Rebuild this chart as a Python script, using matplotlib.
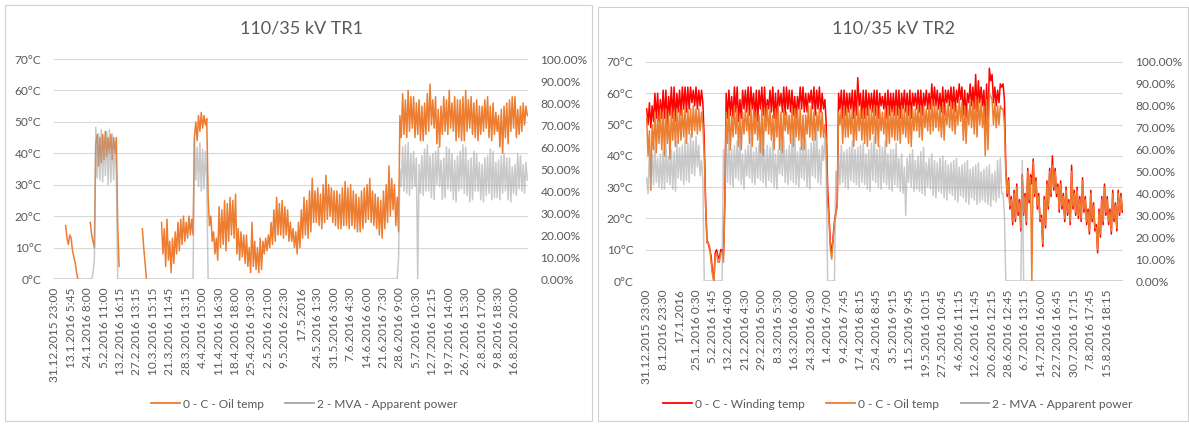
import numpy as np
import matplotlib
matplotlib.use("Agg")
import matplotlib.pyplot as plt
from matplotlib.patches import Rectangle
from matplotlib.lines import Line2D

plt.rcParams['font.family'] = ['Lato', 'DejaVu Sans']

nan = np.nan

# ---------------- TR1 data ----------------
tr1_labels = ["31.12.2015 23:00", "13.1.2016 5:45", "24.1.2016 8:00", "5.2.2016 11:00",
              "13.2.2016 16:15", "27.2.2016 13:15", "10.3.2016 15:15", "21.3.2016 11:45",
              "28.3.2016 13:15", "4.4.2016 15:00", "11.4.2016 16:30", "18.4.2016 18:00",
              "25.4.2016 19:30", "2.5.2016 21:00", "9.5.2016 22:30", "17.5.2016",
              "24.5.2016 1:30", "31.5.2016 3:00", "7.6.2016 4:30", "14.6.2016 6:00",
              "21.6.2016 7:30", "28.6.2016 9:00", "5.7.2016 10:30", "12.7.2016 12:15",
              "19.7.2016 14:00", "26.7.2016 15:30", "2.8.2016 17:00", "9.8.2016 18:30",
              "16.8.2016 20:00"]

tr1_oil = ([nan] * 8 +
           [17, 13, 11, 14, 13, 9, 7, 5, 2, 0] +
           [nan] * 8 +
           [18, 14, 12, 10] +
           [43, 46, 36, 45, 37, 46, 38, 47, 39, 45, 40, 46, 38, 45, 40, 45] +
           [17, 4] +
           [nan] * 16 +
           [16, 10, 5, 0] +
           [nan] * 10 +
           [18, 8, 16, 4, 19, 6, 12, 2, 13, 5, 15, 8, 18, 9, 19, 11, 20, 12, 18, 13, 20, 14, 19, 14] +
           [45, 50, 44, 52, 47, 53, 48, 52, 49, 51] +
           [26, 17, 20, 12, 15, 8, 13, 6,
            23, 10, 22, 11, 25, 9, 24, 12, 26, 14, 25, 13, 27, 8,
            16, 6, 15, 7, 14, 5, 14, 4, 10, 2, 18, 4, 12, 3, 10, 2, 13, 3,
            12, 8, 13, 9, 14, 10, 18, 11, 22, 12, 26, 14, 24, 14, 25, 13, 23, 14, 22, 12,
            18, 12, 16, 10, 15, 8, 18, 10, 22, 13, 26, 14, 25, 13, 28, 15, 32, 18, 28, 18,
            29, 17, 27, 16, 30, 18, 33, 19, 30, 20, 29, 18, 28, 17, 28, 16, 27, 16, 29, 17,
            31, 17, 29, 16, 30, 17, 28, 16, 27, 15, 26, 15, 28, 16, 29, 18, 30, 19, 32, 18,
            28, 17, 27, 16, 26, 14, 25, 13, 28, 16, 30, 18, 36, 20, 32, 22, 30, 17, 26, 15] +
           [52, 45, 59, 46, 57, 45, 60, 47, 58, 48, 58, 45, 56, 46, 57, 44, 55, 44, 56, 46,
            59, 47, 62, 49, 57, 48, 58, 43, 54, 42, 55, 46, 58, 47, 57, 46, 60, 48, 56, 47,
            58, 44, 57, 45, 57, 44, 58, 44, 60, 47, 57, 48, 58, 46, 56, 45, 57, 44, 55, 46,
            55, 47, 57, 48, 58, 45, 55, 44, 56, 46, 53, 47, 52, 42, 54, 40, 55, 45, 56, 43,
            57, 47, 58, 48, 58, 45, 54, 46, 55, 47, 56, 49, 55, 52])

tr1_mva = ([0] * 28 + [3, 9] +
           [69, 46, 66, 45, 68, 44, 65, 47, 67, 43, 68, 44, 66, 45, 62, 48] +
           [0] * 56 +
           [64, 45, 60, 42, 62, 40, 59, 41, 58, 45] +
           [0] * 138 + [0, 9] +
           [50, 42, 60, 40, 61, 39, 62, 38, 57, 41, 58, 42, 55, 0, 52, 39, 56, 38, 59, 40,
            61, 40, 56, 37, 57, 36, 58, 43, 60, 42, 54, 36, 55, 37, 60, 41, 59, 40, 57, 36,
            54, 35, 56, 40, 58, 41, 61, 39, 60, 38, 54, 35, 55, 36, 58, 40, 57, 40, 53, 36,
            52, 35, 55, 38, 56, 39, 59, 36, 58, 37, 53, 37, 54, 36, 56, 39, 57, 40, 55, 36,
            55, 35, 51, 39, 52, 38, 57, 41, 56, 40, 52, 39, 53, 45])

# ---------------- TR2 data ----------------
tr2_labels = ["31.12.2015 23:00", "8.1.2016 23:30", "17.1.2016", "25.1.2016 0:30",
              "5.2.2016 1:45", "13.2.2016 4:00", "21.2.2016 4:30", "29.2.2016 5:00",
              "8.3.2016 5:30", "16.3.2016 6:00", "24.3.2016 6:30", "1.4.2016 7:00",
              "9.4.2016 7:45", "17.4.2016 8:15", "25.4.2016 8:45", "3.5.2016 9:15",
              "11.5.2016 9:45", "19.5.2016 10:15", "27.5.2016 10:45", "4.6.2016 11:15",
              "12.6.2016 11:45", "20.6.2016 12:15", "28.6.2016 12:45", "6.7.2016 13:15",
              "14.7.2016 16:00", "22.7.2016 16:45", "30.7.2016 17:15", "7.8.2016 17:45",
              "15.8.2016 18:15"]

tr2_winding = ([55, 50, 57, 49, 56, 51, 60, 52, 60, 51, 58, 52, 61, 52, 61, 50, 59, 53, 62, 52,
                62, 51, 60, 54, 61, 53, 62, 55, 62, 54, 62, 55, 62, 57, 61, 56, 62, 55, 61, 56,
                61, 57] +
               [45, 25, 13, 12, 10, 8, 3, 0, 9, 10, 8, 7, 10, 10, 8, 26] +
               [60, 52, 61, 53, 59, 52, 62, 54, 62, 51, 58, 52, 61, 55, 61, 54, 62, 53, 62, 55,
                60, 52, 61, 51, 61, 55, 62, 53, 62, 52, 58, 55, 61, 54, 62, 52, 60, 51, 61, 56,
                60, 54, 62, 53, 62, 55, 61, 54, 61, 53, 59, 52, 59, 55, 62, 55, 62, 54, 60, 54,
                60, 57, 61, 55, 62, 53, 61, 55, 62, 54, 60, 55, 58, 50] +
               [30, 21, 12, 9, 14, 19, 22, 25] +
               [60, 55, 61, 52, 61, 53, 60, 54, 60, 55, 61, 52, 61, 53, 65, 56, 60, 52, 61, 52,
                61, 53, 60, 55, 60, 54, 61, 53, 61, 52, 60, 56, 59, 55, 60, 52, 61, 53, 60, 54,
                60, 53, 61, 53, 61, 52, 60, 55, 61, 54, 60, 53, 61, 52, 60, 56, 60, 55, 61, 54,
                61, 53, 60, 56, 61, 55, 60, 55, 63, 56, 62, 56, 61, 55, 60, 54, 62, 53, 61, 57,
                61, 56, 62, 55, 62, 54, 61, 57, 63, 58, 62, 53, 61, 52, 60, 57, 63, 56, 62, 55,
                66, 54, 64, 57, 62, 56, 61, 50, 63, 49, 68, 64, 66, 57, 62, 56, 61, 57, 63, 62,
                63, 58] +
               [36, 27, 33, 23, 27, 18, 29, 19, 31, 21, 26, 16, 34, 21, 28, 18, 36, 25, 34, 31,
                39, 27, 33, 23, 28, 19, 21, 11, 27, 17, 32, 23, 36, 27, 40, 29, 36, 27, 31, 22,
                32, 23, 28, 19, 30, 21, 26, 18, 37, 23, 29, 21, 30, 20, 27, 19, 33, 22, 27, 18,
                23, 15, 29, 19, 25, 16, 18, 9, 23, 14, 27, 18, 31, 21, 27, 18, 23, 15, 29, 19,
                25, 16, 29, 21, 28, 22])

tr2_oil = ([52, 40, 48, 29, 50, 42, 54, 41, 53, 44, 55, 42, 54, 40, 55, 44, 53, 39, 55, 45,
            54, 43, 55, 44, 55, 45, 55, 46, 55, 44, 55, 47, 55, 46, 56, 48, 55, 47, 55, 48,
            54, 50] +
           [40, 24, 12, 12, 11, 6, 2, 0, 8, 9, 6, 6, 9, 9, 6, 23] +
           [54, 44, 55, 42, 53, 46, 56, 47, 55, 43, 52, 42, 54, 47, 55, 48, 54, 44, 56, 43,
            55, 47, 54, 45, 53, 41, 55, 40, 55, 48, 56, 47, 55, 45, 53, 42, 55, 46, 56, 42,
            54, 41, 55, 48, 54, 47, 53, 44, 56, 43, 55, 46, 55, 45, 55, 42, 53, 42, 53, 47,
            56, 46, 56, 45, 54, 45, 54, 48, 55, 46, 54, 46, 50, 45] +
           [25, 20, 10, 7, 13, 18, 21, 24] +
           [54, 50, 55, 44, 56, 46, 55, 46, 55, 47, 55, 43, 54, 45, 56, 48, 55, 45, 55, 44,
            55, 43, 56, 45, 55, 47, 56, 44, 56, 43, 55, 48, 54, 47, 55, 43, 56, 44, 55, 46,
            55, 45, 56, 45, 55, 44, 56, 47, 55, 46, 56, 44, 56, 43, 55, 48, 55, 48, 56, 46,
            56, 45, 56, 49, 55, 48, 56, 47, 58, 48, 57, 49, 56, 48, 55, 46, 57, 45, 56, 50,
            57, 49, 57, 48, 57, 47, 56, 50, 58, 51, 57, 45, 56, 44, 55, 50, 58, 49, 57, 47,
            59, 46, 58, 50, 57, 49, 56, 40, 58, 42, 60, 59, 58, 50, 57, 49, 56, 50, 56, 55,
            55, 50] +
           [35, 28, 32, 24, 26, 19, 28, 20, 30, 22, 25, 17, 33, 22, 27, 19, 35, 26, 33, 0,
            38, 28, 32, 24, 27, 20, 20, 12, 26, 18, 31, 24, 35, 28, 37, 30, 35, 28, 30, 23,
            31, 24, 27, 20, 29, 22, 25, 19, 35, 24, 28, 22, 29, 21, 26, 20, 32, 23, 26, 19,
            22, 16, 28, 20, 24, 17, 17, 10, 22, 15, 26, 19, 30, 22, 26, 19, 22, 16, 28, 20,
            24, 17, 28, 22, 27, 23])

tr2_mva = ([47, 40, 60, 43, 58, 44, 62, 45, 56, 43, 58, 42, 60, 42, 63, 45, 57, 44, 60, 42,
            59, 41, 64, 47, 61, 46, 62, 44, 65, 46, 63, 45, 67, 49, 64, 48, 66, 52, 62, 48,
            55, 46] +
           [0] * 14 +
           [60, 47, 63, 45, 66, 44, 60, 43, 62, 47, 64, 46, 68, 44, 58, 42, 60, 48, 62, 47,
            65, 45, 59, 44, 61, 47, 63, 46, 67, 45, 60, 43, 62, 46, 61, 45, 64, 43, 58, 42,
            60, 49, 63, 48, 66, 45, 60, 44, 62, 46, 65, 45, 68, 44, 59, 43, 61, 47, 63, 46,
            65, 43, 60, 42, 63, 48, 66, 47, 70, 45, 60, 44, 62, 55, 66, 50] +
           [0] * 6 +
           [50, 45, 58, 44, 62, 45, 59, 43, 60, 42, 61, 46, 64, 45, 60, 44, 61, 43, 62, 45,
            63, 44, 58, 42, 60, 41, 63, 46, 66, 45, 60, 43, 62, 42, 61, 45, 64, 44, 58, 42,
            60, 41, 60, 44, 63, 43, 56, 41, 58, 40, 52, 30, 56, 45, 58, 43, 60, 41, 55, 42,
            57, 41, 59, 40, 61, 39, 54, 43, 56, 42, 58, 39, 55, 38, 54, 41, 56, 40, 57, 38,
            55, 37, 53, 40, 54, 39, 55, 37, 56, 36, 52, 39, 53, 38, 54, 36, 55, 35, 51, 38,
            52, 37, 53, 35, 54, 36, 50, 37, 51, 36, 52, 35, 53, 34, 49, 37, 50, 36, 55, 38,
            56, 40, 40, 30] +
           [0] * 12 + [55] + [0] * 73)

# ---------------- style ----------------
W, H = 1189, 424
TXT = '#595959'
GRID = '#d9d9d9'
C_OIL = '#ed7d31'
C_WIND = '#ff0000'
C_MVA = '#a5a5a5'
FS = 8.6
LW = 1.1
STEP = 12

fig = plt.figure(figsize=(W / 100, H / 100), dpi=100)
fig.patch.set_facecolor('white')

# panel borders
for (x0, y0, x1, y1) in [(5, 5, 592, 421), (598, 7, 1188, 421)]:
    fig.patches.append(Rectangle((x0 / W, 1 - y1 / H), (x1 - x0) / W, (y1 - y0) / H,
                                 transform=fig.transFigure, fill=False,
                                 ec='#d0d0d0', lw=0.8, zorder=0))


def make_panel(rect, title, title_x, series, labels, legend_x, ncol):
    x0, ytop, x1, ybot = rect
    ax = fig.add_axes([x0 / W, 1 - ybot / H, (x1 - x0) / W, (ybot - ytop) / H])
    ax2 = ax.twinx()
    n = max(len(s[1]) for s in series)
    handles = []
    for name, vals, color, axis in series:
        v = np.array(vals, dtype=float)
        target = ax2 if axis == 2 else ax
        alpha = 0.6 if axis == 2 else 1.0
        target.plot(np.arange(len(v)), v, color=color, lw=LW, alpha=alpha)
        handles.append(Line2D([], [], color=color, lw=1.3, label=name))
    ax.set_xlim(-0.5, n - 0.5)
    ax.set_ylim(0, 70)
    ax2.set_ylim(0, 100)
    ax.set_yticks(np.arange(0, 71, 10))
    ax.set_yticklabels([f"{v}°C" for v in range(0, 71, 10)])
    ax2.set_yticks(np.arange(0, 101, 10))
    ax2.set_yticklabels([f"{v:.2f}%" for v in range(0, 101, 10)])
    ticks = np.arange(0, n, STEP)[:len(labels)]
    ax.set_xticks(ticks)
    ax.set_xticklabels(labels[:len(ticks)], rotation=90, ha='center', va='top')
    ax.grid(axis='y', color=GRID, lw=0.8)
    ax.set_axisbelow(True)
    for a in (ax, ax2):
        for s in a.spines.values():
            s.set_visible(False)
        a.tick_params(length=0, colors=TXT, labelsize=FS)
    ax.tick_params(axis='x', pad=6)
    ax.tick_params(axis='y', pad=9)
    ax2.tick_params(axis='y', pad=9)
    fig.text(title_x / W, 1 - 29 / H, title, ha='center', va='center',
             fontsize=13, color=TXT)
    leg = fig.legend(handles=handles, loc='center', ncol=ncol,
                     bbox_to_anchor=(legend_x / W, 1 - 404 / H),
                     frameon=False, fontsize=FS, handlelength=2.4,
                     handletextpad=0.25, columnspacing=1.8, borderaxespad=0)
    for t in leg.get_texts():
        t.set_color(TXT)
    return ax


make_panel((54, 59, 528, 279), "110/35 kV TR1", 301,
           [("0 - C - Oil temp", tr1_oil, C_OIL, 1),
            ("2 - MVA - Apparent power", tr1_mva, C_MVA, 2)],
           tr1_labels, 304, 2)

make_panel((646, 62, 1123, 281), "110/35 kV TR2", 893,
           [("0 - C - Winding temp", tr2_winding, C_WIND, 1),
            ("0 - C - Oil temp", tr2_oil, C_OIL, 1),
            ("2 - MVA - Apparent power", tr2_mva, C_MVA, 2)],
           tr2_labels, 898, 3)

fig.savefig('out.png', dpi=100, facecolor='white')
